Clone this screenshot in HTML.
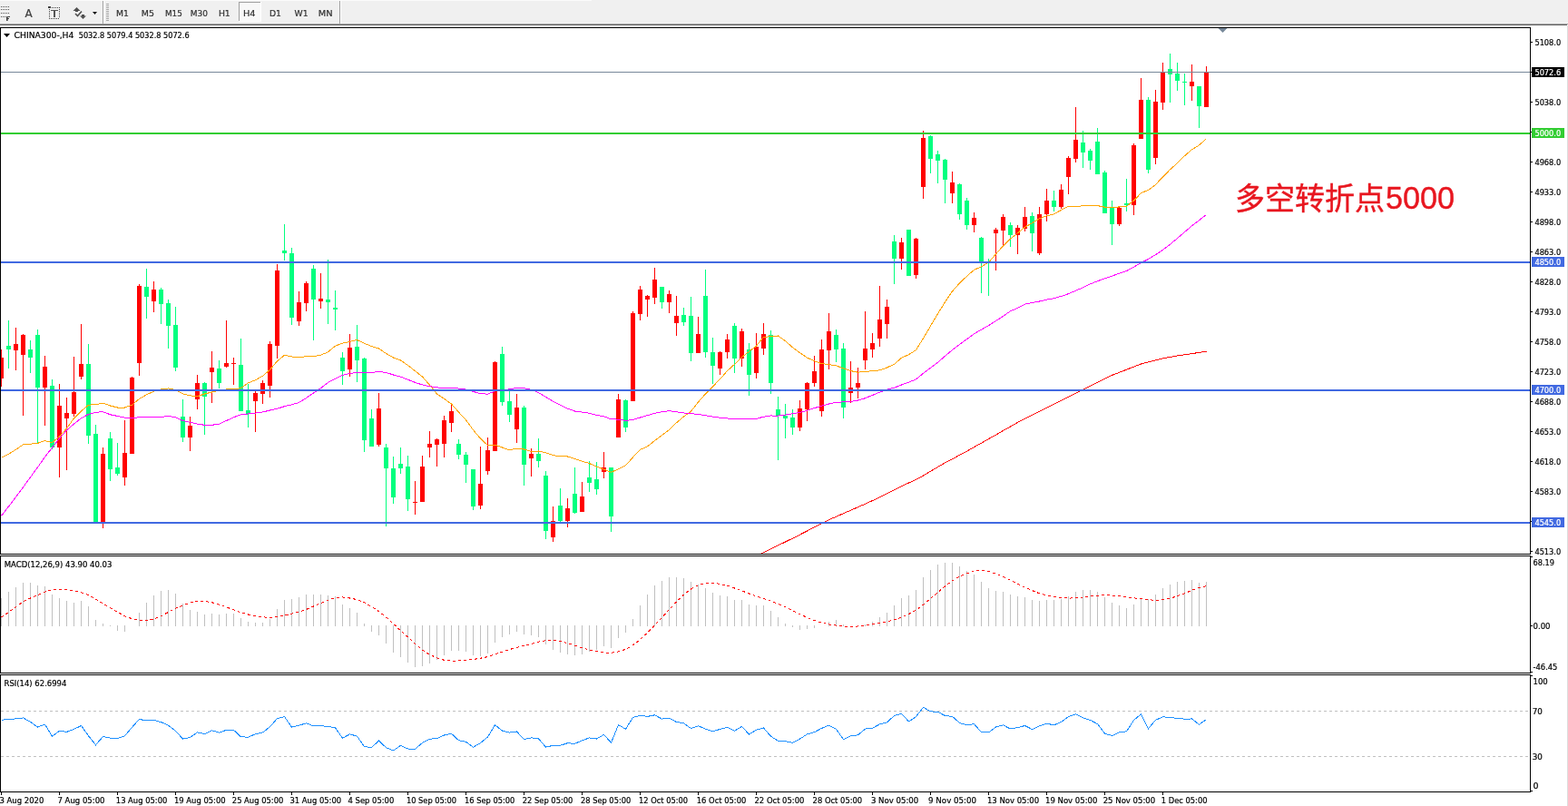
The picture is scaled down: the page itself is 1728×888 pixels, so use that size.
<!DOCTYPE html>
<html><head><meta charset="utf-8"><title>CHINA300-,H4</title>
<style>html,body{margin:0;padding:0;background:#fff;}body{width:1728px;height:888px;overflow:hidden;}svg{display:block;}</style>
</head><body>
<svg width="1728" height="888" viewBox="0 0 1728 888" font-family="'DejaVu Sans', 'Liberation Sans', sans-serif">
<rect width="1728" height="888" fill="#fff"/>
<g shape-rendering="crispEdges">
<rect x="0" y="0" width="1728" height="26" fill="#f0f0f0"/>
<rect x="0" y="0" width="652" height="1" fill="#fbfbfb"/>
<rect x="0" y="25" width="1728" height="1" fill="#f4f4f4"/>
<rect x="0" y="26" width="1728" height="1" fill="#a0a0a0"/>
<rect x="0" y="27" width="1727" height="1" fill="#656565"/>
<rect x="1" y="7" width="1" height="1" fill="#505050"/>
<rect x="3" y="7" width="1" height="1" fill="#505050"/>
<rect x="5" y="7" width="1" height="1" fill="#505050"/>
<rect x="7" y="7" width="1" height="1" fill="#505050"/>
<rect x="9" y="7" width="1" height="1" fill="#505050"/>
<rect x="1" y="10" width="1" height="1" fill="#505050"/>
<rect x="3" y="10" width="1" height="1" fill="#505050"/>
<rect x="5" y="10" width="1" height="1" fill="#505050"/>
<rect x="7" y="10" width="1" height="1" fill="#505050"/>
<rect x="9" y="10" width="1" height="1" fill="#505050"/>
<rect x="1" y="14" width="1" height="1" fill="#505050"/>
<rect x="3" y="14" width="1" height="1" fill="#505050"/>
<rect x="5" y="14" width="1" height="1" fill="#505050"/>
<rect x="7" y="14" width="1" height="1" fill="#505050"/>
<rect x="9" y="14" width="1" height="1" fill="#505050"/>
<rect x="1" y="18" width="1" height="1" fill="#505050"/>
<rect x="3" y="18" width="1" height="1" fill="#505050"/>
<rect x="5" y="18" width="1" height="1" fill="#505050"/>
<rect x="7" y="18" width="4" height="1" fill="#404040"/><rect x="7" y="18" width="1" height="5" fill="#404040"/><rect x="8" y="18" width="1" height="5" fill="#808080"/><rect x="7" y="20" width="3" height="1" fill="#404040"/>
<rect x="113" y="1" width="1" height="25" fill="#a0a0a0"/><rect x="114" y="1" width="1" height="25" fill="#ffffff"/>
<rect x="117" y="4" width="3" height="1" fill="#a8a8a8"/>
<rect x="117" y="6" width="3" height="1" fill="#a8a8a8"/>
<rect x="117" y="8" width="3" height="1" fill="#a8a8a8"/>
<rect x="117" y="10" width="3" height="1" fill="#a8a8a8"/>
<rect x="117" y="12" width="3" height="1" fill="#a8a8a8"/>
<rect x="117" y="14" width="3" height="1" fill="#a8a8a8"/>
<rect x="117" y="16" width="3" height="1" fill="#a8a8a8"/>
<rect x="117" y="18" width="3" height="1" fill="#a8a8a8"/>
<rect x="117" y="20" width="3" height="1" fill="#a8a8a8"/>
<rect x="117" y="22" width="3" height="1" fill="#a8a8a8"/>
<rect x="374" y="1" width="1" height="25" fill="#a0a0a0"/><rect x="375" y="1" width="1" height="25" fill="#ffffff"/>
<rect x="57" y="8" width="1" height="1" fill="#404040"/>
<rect x="59" y="8" width="1" height="1" fill="#404040"/>
<rect x="61" y="8" width="1" height="1" fill="#404040"/>
<rect x="63" y="8" width="1" height="1" fill="#404040"/>
<rect x="65" y="8" width="1" height="1" fill="#404040"/>
<rect x="53" y="7" width="3" height="2" fill="#404040"/>
<rect x="54" y="10" width="1" height="1" fill="#404040"/><rect x="65" y="10" width="1" height="1" fill="#404040"/>
<rect x="54" y="12" width="1" height="1" fill="#404040"/><rect x="65" y="12" width="1" height="1" fill="#404040"/>
<rect x="54" y="14" width="1" height="1" fill="#404040"/><rect x="65" y="14" width="1" height="1" fill="#404040"/>
<rect x="54" y="16" width="1" height="1" fill="#404040"/><rect x="65" y="16" width="1" height="1" fill="#404040"/>
<rect x="54" y="18" width="1" height="1" fill="#404040"/><rect x="65" y="18" width="1" height="1" fill="#404040"/>
<rect x="54" y="20" width="1" height="1" fill="#404040"/>
<rect x="56" y="20" width="1" height="1" fill="#404040"/>
<rect x="58" y="20" width="1" height="1" fill="#404040"/>
<rect x="60" y="20" width="1" height="1" fill="#404040"/>
<rect x="62" y="20" width="1" height="1" fill="#404040"/>
<rect x="64" y="20" width="1" height="1" fill="#404040"/>
<rect x="56" y="11" width="8" height="1" fill="#555"/><rect x="59" y="11" width="2" height="8" fill="#555"/>
<rect x="263" y="2" width="25" height="22" fill="#f8f8f8"/>
<rect x="263" y="2" width="25" height="1" fill="#a0a0a0"/><rect x="263" y="2" width="1" height="22" fill="#a0a0a0"/>
<rect x="263" y="23" width="25" height="1" fill="#ffffff"/><rect x="287" y="2" width="1" height="22" fill="#ffffff"/>
</g>
<text x="27.6" y="19" fill="#404040" stroke="#404040" stroke-width="0.22" font-size="12.4" textLength="8.2" lengthAdjust="spacingAndGlyphs">A</text>
<path d="M84.5 8 L88.5 12 L80.5 12 Z" fill="#505050"/><rect x="83" y="12" width="3" height="1" fill="#505050"/>
<path d="M83 15 L85.5 17.5 L90 12.5" stroke="#505050" stroke-width="1.6" fill="none"/>
<path d="M88 17.5 L95 17.5 L91.5 21 Z" fill="#505050"/><rect x="90" y="16" width="3" height="2" fill="#505050"/>
<path d="M102 13 L107 13 L104.5 16 Z" fill="#111"/>
<text x="127.9" y="18" fill="#333" stroke="#333" stroke-width="0.22" font-size="9.2" textLength="13.9" lengthAdjust="spacingAndGlyphs">M1</text>
<text x="155.8" y="18" fill="#333" stroke="#333" stroke-width="0.22" font-size="9.2" textLength="14.1" lengthAdjust="spacingAndGlyphs">M5</text>
<text x="181.9" y="18" fill="#333" stroke="#333" stroke-width="0.22" font-size="9.2" textLength="18.9" lengthAdjust="spacingAndGlyphs">M15</text>
<text x="209.7" y="18" fill="#333" stroke="#333" stroke-width="0.22" font-size="9.2" textLength="19.2" lengthAdjust="spacingAndGlyphs">M30</text>
<text x="240.9" y="18" fill="#333" stroke="#333" stroke-width="0.22" font-size="9.2" textLength="12.9" lengthAdjust="spacingAndGlyphs">H1</text>
<text x="268.0" y="18" fill="#333" stroke="#333" stroke-width="0.22" font-size="9.2" textLength="13.6" lengthAdjust="spacingAndGlyphs">H4</text>
<text x="296.9" y="18" fill="#333" stroke="#333" stroke-width="0.22" font-size="9.2" textLength="13.0" lengthAdjust="spacingAndGlyphs">D1</text>
<text x="324.6" y="18" fill="#333" stroke="#333" stroke-width="0.22" font-size="9.2" textLength="15.0" lengthAdjust="spacingAndGlyphs">W1</text>
<text x="350.8" y="18" fill="#333" stroke="#333" stroke-width="0.22" font-size="9.2" textLength="15.9" lengthAdjust="spacingAndGlyphs">MN</text>
<g shape-rendering="crispEdges">
<rect x="1727" y="28" width="1" height="860" fill="#dcdcdc"/>
</g>
<defs><clipPath id="cm"><rect x="1" y="31" width="1685" height="579"/></clipPath><clipPath id="cd"><rect x="1" y="613" width="1685" height="128"/></clipPath><clipPath id="cr"><rect x="1" y="744" width="1685" height="128"/></clipPath></defs>
<g clip-path="url(#cm)" shape-rendering="crispEdges">
<rect x="1" y="385" width="1" height="41" fill="#ff0000"/>
<rect x="-1" y="394" width="5" height="23" fill="#ff0000"/>
<rect x="9" y="353" width="1" height="53" fill="#00ff7f"/>
<rect x="7" y="381" width="5" height="4" fill="#00ff7f"/>
<rect x="17" y="361" width="1" height="47" fill="#ff0000"/>
<rect x="15" y="379" width="5" height="7" fill="#ff0000"/>
<rect x="25" y="368" width="1" height="90" fill="#ff0000"/>
<rect x="23" y="369" width="5" height="22" fill="#ff0000"/>
<rect x="33" y="375" width="1" height="36" fill="#00ff7f"/>
<rect x="31" y="385" width="5" height="9" fill="#00ff7f"/>
<rect x="41" y="363" width="1" height="126" fill="#00ff7f"/>
<rect x="39" y="369" width="5" height="58" fill="#00ff7f"/>
<rect x="49" y="392" width="1" height="77" fill="#ff0000"/>
<rect x="47" y="404" width="5" height="23" fill="#ff0000"/>
<rect x="57" y="418" width="1" height="77" fill="#00ff7f"/>
<rect x="55" y="425" width="5" height="68" fill="#00ff7f"/>
<rect x="65" y="423" width="1" height="103" fill="#ff0000"/>
<rect x="63" y="447" width="5" height="46" fill="#ff0000"/>
<rect x="73" y="438" width="1" height="80" fill="#ff0000"/>
<rect x="71" y="455" width="5" height="6" fill="#ff0000"/>
<rect x="81" y="393" width="1" height="66" fill="#ff0000"/>
<rect x="79" y="432" width="5" height="24" fill="#ff0000"/>
<rect x="89" y="357" width="1" height="61" fill="#ff0000"/>
<rect x="87" y="401" width="5" height="14" fill="#ff0000"/>
<rect x="97" y="379" width="1" height="110" fill="#00ff7f"/>
<rect x="95" y="401" width="5" height="79" fill="#00ff7f"/>
<rect x="105" y="468" width="1" height="107" fill="#00ff7f"/>
<rect x="103" y="478" width="5" height="97" fill="#00ff7f"/>
<rect x="113" y="493" width="1" height="89" fill="#ff0000"/>
<rect x="111" y="500" width="5" height="75" fill="#ff0000"/>
<rect x="121" y="476" width="1" height="54" fill="#00ff7f"/>
<rect x="119" y="483" width="5" height="34" fill="#00ff7f"/>
<rect x="129" y="488" width="1" height="36" fill="#00ff7f"/>
<rect x="127" y="515" width="5" height="7" fill="#00ff7f"/>
<rect x="137" y="463" width="1" height="72" fill="#ff0000"/>
<rect x="135" y="499" width="5" height="27" fill="#ff0000"/>
<rect x="145" y="415" width="1" height="85" fill="#ff0000"/>
<rect x="143" y="416" width="5" height="84" fill="#ff0000"/>
<rect x="153" y="313" width="1" height="101" fill="#ff0000"/>
<rect x="151" y="315" width="5" height="85" fill="#ff0000"/>
<rect x="161" y="296" width="1" height="55" fill="#00ff7f"/>
<rect x="159" y="316" width="5" height="11" fill="#00ff7f"/>
<rect x="169" y="310" width="1" height="34" fill="#ff0000"/>
<rect x="167" y="319" width="5" height="13" fill="#ff0000"/>
<rect x="177" y="317" width="1" height="40" fill="#00ff7f"/>
<rect x="175" y="319" width="5" height="16" fill="#00ff7f"/>
<rect x="185" y="330" width="1" height="54" fill="#00ff7f"/>
<rect x="183" y="334" width="5" height="25" fill="#00ff7f"/>
<rect x="193" y="338" width="1" height="71" fill="#00ff7f"/>
<rect x="191" y="358" width="5" height="47" fill="#00ff7f"/>
<rect x="201" y="440" width="1" height="47" fill="#00ff7f"/>
<rect x="199" y="459" width="5" height="23" fill="#00ff7f"/>
<rect x="209" y="459" width="1" height="38" fill="#ff0000"/>
<rect x="207" y="469" width="5" height="13" fill="#ff0000"/>
<rect x="217" y="413" width="1" height="38" fill="#ff0000"/>
<rect x="215" y="422" width="5" height="18" fill="#ff0000"/>
<rect x="225" y="421" width="1" height="58" fill="#00ff7f"/>
<rect x="223" y="422" width="5" height="15" fill="#00ff7f"/>
<rect x="233" y="387" width="1" height="57" fill="#ff0000"/>
<rect x="231" y="405" width="5" height="5" fill="#ff0000"/>
<rect x="241" y="397" width="1" height="31" fill="#00ff7f"/>
<rect x="239" y="406" width="5" height="16" fill="#00ff7f"/>
<rect x="249" y="353" width="1" height="52" fill="#ff0000"/>
<rect x="247" y="400" width="5" height="4" fill="#ff0000"/>
<rect x="257" y="394" width="1" height="30" fill="#ff0000"/>
<rect x="255" y="400" width="5" height="1" fill="#ff0000"/>
<rect x="265" y="373" width="1" height="80" fill="#00ff7f"/>
<rect x="263" y="402" width="5" height="51" fill="#00ff7f"/>
<rect x="273" y="423" width="1" height="48" fill="#00ff7f"/>
<rect x="271" y="452" width="5" height="4" fill="#00ff7f"/>
<rect x="281" y="431" width="1" height="45" fill="#ff0000"/>
<rect x="279" y="433" width="5" height="9" fill="#ff0000"/>
<rect x="289" y="419" width="1" height="26" fill="#ff0000"/>
<rect x="287" y="422" width="5" height="12" fill="#ff0000"/>
<rect x="297" y="376" width="1" height="62" fill="#ff0000"/>
<rect x="295" y="379" width="5" height="46" fill="#ff0000"/>
<rect x="305" y="291" width="1" height="104" fill="#ff0000"/>
<rect x="303" y="298" width="5" height="83" fill="#ff0000"/>
<rect x="313" y="247" width="1" height="40" fill="#00ff7f"/>
<rect x="311" y="276" width="5" height="3" fill="#00ff7f"/>
<rect x="321" y="273" width="1" height="85" fill="#00ff7f"/>
<rect x="319" y="279" width="5" height="71" fill="#00ff7f"/>
<rect x="329" y="321" width="1" height="38" fill="#ff0000"/>
<rect x="327" y="333" width="5" height="21" fill="#ff0000"/>
<rect x="337" y="310" width="1" height="33" fill="#ff0000"/>
<rect x="335" y="312" width="5" height="22" fill="#ff0000"/>
<rect x="345" y="292" width="1" height="83" fill="#00ff7f"/>
<rect x="343" y="296" width="5" height="34" fill="#00ff7f"/>
<rect x="353" y="301" width="1" height="39" fill="#ff0000"/>
<rect x="351" y="329" width="5" height="3" fill="#ff0000"/>
<rect x="361" y="286" width="1" height="71" fill="#00ff7f"/>
<rect x="359" y="330" width="5" height="3" fill="#00ff7f"/>
<rect x="369" y="320" width="1" height="44" fill="#00ff7f"/>
<rect x="367" y="339" width="5" height="2" fill="#00ff7f"/>
<rect x="377" y="388" width="1" height="36" fill="#00ff7f"/>
<rect x="375" y="394" width="5" height="15" fill="#00ff7f"/>
<rect x="385" y="368" width="1" height="47" fill="#ff0000"/>
<rect x="383" y="383" width="5" height="24" fill="#ff0000"/>
<rect x="393" y="358" width="1" height="63" fill="#00ff7f"/>
<rect x="391" y="382" width="5" height="15" fill="#00ff7f"/>
<rect x="401" y="394" width="1" height="104" fill="#00ff7f"/>
<rect x="399" y="395" width="5" height="90" fill="#00ff7f"/>
<rect x="409" y="451" width="1" height="41" fill="#00ff7f"/>
<rect x="407" y="461" width="5" height="31" fill="#00ff7f"/>
<rect x="417" y="433" width="1" height="59" fill="#ff0000"/>
<rect x="415" y="450" width="5" height="40" fill="#ff0000"/>
<rect x="425" y="489" width="1" height="91" fill="#00ff7f"/>
<rect x="423" y="493" width="5" height="23" fill="#00ff7f"/>
<rect x="433" y="503" width="1" height="52" fill="#00ff7f"/>
<rect x="431" y="516" width="5" height="32" fill="#00ff7f"/>
<rect x="441" y="493" width="1" height="29" fill="#00ff7f"/>
<rect x="439" y="511" width="5" height="5" fill="#00ff7f"/>
<rect x="449" y="502" width="1" height="61" fill="#00ff7f"/>
<rect x="447" y="514" width="5" height="36" fill="#00ff7f"/>
<rect x="457" y="530" width="1" height="37" fill="#ff0000"/>
<rect x="455" y="553" width="5" height="1" fill="#ff0000"/>
<rect x="465" y="502" width="1" height="51" fill="#ff0000"/>
<rect x="463" y="514" width="5" height="39" fill="#ff0000"/>
<rect x="473" y="475" width="1" height="29" fill="#ff0000"/>
<rect x="471" y="489" width="5" height="4" fill="#ff0000"/>
<rect x="481" y="483" width="1" height="31" fill="#ff0000"/>
<rect x="479" y="484" width="5" height="6" fill="#ff0000"/>
<rect x="489" y="458" width="1" height="46" fill="#ff0000"/>
<rect x="487" y="463" width="5" height="26" fill="#ff0000"/>
<rect x="497" y="444" width="1" height="32" fill="#ff0000"/>
<rect x="495" y="453" width="5" height="13" fill="#ff0000"/>
<rect x="505" y="484" width="1" height="22" fill="#00ff7f"/>
<rect x="503" y="489" width="5" height="12" fill="#00ff7f"/>
<rect x="513" y="498" width="1" height="34" fill="#00ff7f"/>
<rect x="511" y="501" width="5" height="11" fill="#00ff7f"/>
<rect x="521" y="517" width="1" height="45" fill="#00ff7f"/>
<rect x="519" y="517" width="5" height="41" fill="#00ff7f"/>
<rect x="529" y="492" width="1" height="69" fill="#ff0000"/>
<rect x="527" y="533" width="5" height="24" fill="#ff0000"/>
<rect x="537" y="482" width="1" height="41" fill="#ff0000"/>
<rect x="535" y="496" width="5" height="23" fill="#ff0000"/>
<rect x="545" y="398" width="1" height="99" fill="#ff0000"/>
<rect x="543" y="399" width="5" height="98" fill="#ff0000"/>
<rect x="553" y="382" width="1" height="65" fill="#00ff7f"/>
<rect x="551" y="390" width="5" height="53" fill="#00ff7f"/>
<rect x="561" y="430" width="1" height="35" fill="#00ff7f"/>
<rect x="559" y="442" width="5" height="15" fill="#00ff7f"/>
<rect x="569" y="434" width="1" height="54" fill="#ff0000"/>
<rect x="567" y="449" width="5" height="24" fill="#ff0000"/>
<rect x="577" y="447" width="1" height="88" fill="#00ff7f"/>
<rect x="575" y="449" width="5" height="63" fill="#00ff7f"/>
<rect x="585" y="494" width="1" height="31" fill="#ff0000"/>
<rect x="583" y="500" width="5" height="5" fill="#ff0000"/>
<rect x="593" y="483" width="1" height="32" fill="#00ff7f"/>
<rect x="591" y="500" width="5" height="8" fill="#00ff7f"/>
<rect x="601" y="519" width="1" height="75" fill="#00ff7f"/>
<rect x="599" y="524" width="5" height="61" fill="#00ff7f"/>
<rect x="609" y="558" width="1" height="39" fill="#ff0000"/>
<rect x="607" y="574" width="5" height="18" fill="#ff0000"/>
<rect x="617" y="538" width="1" height="37" fill="#00ff7f"/>
<rect x="615" y="557" width="5" height="17" fill="#00ff7f"/>
<rect x="625" y="549" width="1" height="32" fill="#ff0000"/>
<rect x="623" y="560" width="5" height="14" fill="#ff0000"/>
<rect x="633" y="515" width="1" height="51" fill="#00ff7f"/>
<rect x="631" y="544" width="5" height="21" fill="#00ff7f"/>
<rect x="641" y="531" width="1" height="33" fill="#ff0000"/>
<rect x="639" y="547" width="5" height="17" fill="#ff0000"/>
<rect x="649" y="508" width="1" height="34" fill="#00ff7f"/>
<rect x="647" y="526" width="5" height="6" fill="#00ff7f"/>
<rect x="657" y="509" width="1" height="36" fill="#00ff7f"/>
<rect x="655" y="528" width="5" height="11" fill="#00ff7f"/>
<rect x="665" y="498" width="1" height="29" fill="#ff0000"/>
<rect x="663" y="515" width="5" height="5" fill="#ff0000"/>
<rect x="673" y="515" width="1" height="71" fill="#00ff7f"/>
<rect x="671" y="515" width="5" height="54" fill="#00ff7f"/>
<rect x="681" y="434" width="1" height="48" fill="#ff0000"/>
<rect x="679" y="440" width="5" height="42" fill="#ff0000"/>
<rect x="689" y="440" width="1" height="36" fill="#00ff7f"/>
<rect x="687" y="441" width="5" height="30" fill="#00ff7f"/>
<rect x="697" y="343" width="1" height="99" fill="#ff0000"/>
<rect x="695" y="345" width="5" height="97" fill="#ff0000"/>
<rect x="705" y="315" width="1" height="38" fill="#ff0000"/>
<rect x="703" y="319" width="5" height="27" fill="#ff0000"/>
<rect x="713" y="325" width="1" height="24" fill="#ff0000"/>
<rect x="711" y="326" width="5" height="4" fill="#ff0000"/>
<rect x="721" y="295" width="1" height="40" fill="#ff0000"/>
<rect x="719" y="308" width="5" height="20" fill="#ff0000"/>
<rect x="729" y="316" width="1" height="24" fill="#00ff7f"/>
<rect x="727" y="316" width="5" height="17" fill="#00ff7f"/>
<rect x="737" y="320" width="1" height="25" fill="#ff0000"/>
<rect x="735" y="324" width="5" height="9" fill="#ff0000"/>
<rect x="745" y="326" width="1" height="44" fill="#ff0000"/>
<rect x="743" y="348" width="5" height="8" fill="#ff0000"/>
<rect x="753" y="339" width="1" height="20" fill="#00ff7f"/>
<rect x="751" y="347" width="5" height="8" fill="#00ff7f"/>
<rect x="761" y="327" width="1" height="71" fill="#00ff7f"/>
<rect x="759" y="348" width="5" height="41" fill="#00ff7f"/>
<rect x="769" y="349" width="1" height="40" fill="#ff0000"/>
<rect x="767" y="368" width="5" height="21" fill="#ff0000"/>
<rect x="777" y="297" width="1" height="97" fill="#00ff7f"/>
<rect x="775" y="326" width="5" height="62" fill="#00ff7f"/>
<rect x="785" y="372" width="1" height="51" fill="#00ff7f"/>
<rect x="783" y="388" width="5" height="15" fill="#00ff7f"/>
<rect x="793" y="387" width="1" height="26" fill="#ff0000"/>
<rect x="791" y="388" width="5" height="18" fill="#ff0000"/>
<rect x="801" y="368" width="1" height="27" fill="#ff0000"/>
<rect x="799" y="374" width="5" height="14" fill="#ff0000"/>
<rect x="809" y="356" width="1" height="55" fill="#00ff7f"/>
<rect x="807" y="359" width="5" height="36" fill="#00ff7f"/>
<rect x="817" y="362" width="1" height="42" fill="#ff0000"/>
<rect x="815" y="365" width="5" height="30" fill="#ff0000"/>
<rect x="825" y="378" width="1" height="58" fill="#00ff7f"/>
<rect x="823" y="385" width="5" height="28" fill="#00ff7f"/>
<rect x="833" y="367" width="1" height="50" fill="#ff0000"/>
<rect x="831" y="382" width="5" height="29" fill="#ff0000"/>
<rect x="841" y="356" width="1" height="35" fill="#ff0000"/>
<rect x="839" y="368" width="5" height="16" fill="#ff0000"/>
<rect x="849" y="364" width="1" height="70" fill="#00ff7f"/>
<rect x="847" y="369" width="5" height="53" fill="#00ff7f"/>
<rect x="857" y="437" width="1" height="70" fill="#00ff7f"/>
<rect x="855" y="451" width="5" height="7" fill="#00ff7f"/>
<rect x="865" y="445" width="1" height="38" fill="#00ff7f"/>
<rect x="863" y="458" width="5" height="3" fill="#00ff7f"/>
<rect x="873" y="451" width="1" height="28" fill="#00ff7f"/>
<rect x="871" y="460" width="5" height="11" fill="#00ff7f"/>
<rect x="881" y="441" width="1" height="34" fill="#ff0000"/>
<rect x="879" y="450" width="5" height="21" fill="#ff0000"/>
<rect x="889" y="421" width="1" height="43" fill="#ff0000"/>
<rect x="887" y="422" width="5" height="29" fill="#ff0000"/>
<rect x="897" y="392" width="1" height="34" fill="#ff0000"/>
<rect x="895" y="409" width="5" height="13" fill="#ff0000"/>
<rect x="905" y="374" width="1" height="85" fill="#ff0000"/>
<rect x="903" y="385" width="5" height="68" fill="#ff0000"/>
<rect x="913" y="345" width="1" height="62" fill="#ff0000"/>
<rect x="911" y="365" width="5" height="21" fill="#ff0000"/>
<rect x="921" y="363" width="1" height="36" fill="#00ff7f"/>
<rect x="919" y="369" width="5" height="16" fill="#00ff7f"/>
<rect x="929" y="378" width="1" height="83" fill="#00ff7f"/>
<rect x="927" y="384" width="5" height="65" fill="#00ff7f"/>
<rect x="937" y="398" width="1" height="46" fill="#ff0000"/>
<rect x="935" y="427" width="5" height="6" fill="#ff0000"/>
<rect x="945" y="405" width="1" height="34" fill="#ff0000"/>
<rect x="943" y="422" width="5" height="5" fill="#ff0000"/>
<rect x="953" y="343" width="1" height="64" fill="#ff0000"/>
<rect x="951" y="384" width="5" height="13" fill="#ff0000"/>
<rect x="961" y="367" width="1" height="27" fill="#ff0000"/>
<rect x="959" y="378" width="5" height="7" fill="#ff0000"/>
<rect x="969" y="315" width="1" height="67" fill="#ff0000"/>
<rect x="967" y="352" width="5" height="21" fill="#ff0000"/>
<rect x="977" y="330" width="1" height="43" fill="#ff0000"/>
<rect x="975" y="338" width="5" height="19" fill="#ff0000"/>
<rect x="985" y="259" width="1" height="54" fill="#00ff7f"/>
<rect x="983" y="266" width="5" height="19" fill="#00ff7f"/>
<rect x="993" y="262" width="1" height="35" fill="#ff0000"/>
<rect x="991" y="267" width="5" height="18" fill="#ff0000"/>
<rect x="1001" y="253" width="1" height="51" fill="#00ff7f"/>
<rect x="999" y="253" width="5" height="51" fill="#00ff7f"/>
<rect x="1009" y="262" width="1" height="45" fill="#ff0000"/>
<rect x="1007" y="263" width="5" height="40" fill="#ff0000"/>
<rect x="1017" y="144" width="1" height="75" fill="#ff0000"/>
<rect x="1015" y="152" width="5" height="54" fill="#ff0000"/>
<rect x="1025" y="149" width="1" height="42" fill="#00ff7f"/>
<rect x="1023" y="150" width="5" height="25" fill="#00ff7f"/>
<rect x="1033" y="166" width="1" height="36" fill="#00ff7f"/>
<rect x="1031" y="170" width="5" height="7" fill="#00ff7f"/>
<rect x="1041" y="175" width="1" height="49" fill="#00ff7f"/>
<rect x="1039" y="176" width="5" height="22" fill="#00ff7f"/>
<rect x="1049" y="189" width="1" height="35" fill="#ff0000"/>
<rect x="1047" y="201" width="5" height="12" fill="#ff0000"/>
<rect x="1057" y="202" width="1" height="40" fill="#00ff7f"/>
<rect x="1055" y="203" width="5" height="33" fill="#00ff7f"/>
<rect x="1065" y="218" width="1" height="35" fill="#00ff7f"/>
<rect x="1063" y="221" width="5" height="27" fill="#00ff7f"/>
<rect x="1073" y="234" width="1" height="22" fill="#ff0000"/>
<rect x="1071" y="240" width="5" height="8" fill="#ff0000"/>
<rect x="1081" y="261" width="1" height="62" fill="#00ff7f"/>
<rect x="1079" y="262" width="5" height="26" fill="#00ff7f"/>
<rect x="1089" y="285" width="1" height="41" fill="#00ff7f"/>
<rect x="1087" y="288" width="5" height="1" fill="#00ff7f"/>
<rect x="1097" y="251" width="1" height="47" fill="#ff0000"/>
<rect x="1095" y="253" width="5" height="4" fill="#ff0000"/>
<rect x="1105" y="236" width="1" height="34" fill="#ff0000"/>
<rect x="1103" y="239" width="5" height="15" fill="#ff0000"/>
<rect x="1113" y="245" width="1" height="27" fill="#00ff7f"/>
<rect x="1111" y="248" width="5" height="11" fill="#00ff7f"/>
<rect x="1121" y="248" width="1" height="32" fill="#ff0000"/>
<rect x="1119" y="251" width="5" height="8" fill="#ff0000"/>
<rect x="1129" y="228" width="1" height="27" fill="#ff0000"/>
<rect x="1127" y="239" width="5" height="13" fill="#ff0000"/>
<rect x="1137" y="234" width="1" height="43" fill="#00ff7f"/>
<rect x="1135" y="238" width="5" height="19" fill="#00ff7f"/>
<rect x="1145" y="228" width="1" height="53" fill="#ff0000"/>
<rect x="1143" y="236" width="5" height="43" fill="#ff0000"/>
<rect x="1153" y="208" width="1" height="36" fill="#ff0000"/>
<rect x="1151" y="221" width="5" height="15" fill="#ff0000"/>
<rect x="1161" y="210" width="1" height="23" fill="#00ff7f"/>
<rect x="1159" y="221" width="5" height="7" fill="#00ff7f"/>
<rect x="1169" y="203" width="1" height="27" fill="#ff0000"/>
<rect x="1167" y="209" width="5" height="19" fill="#ff0000"/>
<rect x="1177" y="172" width="1" height="42" fill="#ff0000"/>
<rect x="1175" y="174" width="5" height="21" fill="#ff0000"/>
<rect x="1185" y="118" width="1" height="61" fill="#ff0000"/>
<rect x="1183" y="154" width="5" height="21" fill="#ff0000"/>
<rect x="1193" y="144" width="1" height="41" fill="#00ff7f"/>
<rect x="1191" y="157" width="5" height="11" fill="#00ff7f"/>
<rect x="1201" y="164" width="1" height="23" fill="#00ff7f"/>
<rect x="1199" y="166" width="5" height="11" fill="#00ff7f"/>
<rect x="1209" y="141" width="1" height="51" fill="#00ff7f"/>
<rect x="1207" y="156" width="5" height="36" fill="#00ff7f"/>
<rect x="1217" y="188" width="1" height="47" fill="#00ff7f"/>
<rect x="1215" y="190" width="5" height="45" fill="#00ff7f"/>
<rect x="1225" y="221" width="1" height="49" fill="#00ff7f"/>
<rect x="1223" y="229" width="5" height="18" fill="#00ff7f"/>
<rect x="1233" y="228" width="1" height="21" fill="#ff0000"/>
<rect x="1231" y="229" width="5" height="18" fill="#ff0000"/>
<rect x="1241" y="197" width="1" height="36" fill="#00ff7f"/>
<rect x="1239" y="224" width="5" height="2" fill="#00ff7f"/>
<rect x="1249" y="158" width="1" height="79" fill="#ff0000"/>
<rect x="1247" y="160" width="5" height="66" fill="#ff0000"/>
<rect x="1257" y="86" width="1" height="67" fill="#ff0000"/>
<rect x="1255" y="110" width="5" height="43" fill="#ff0000"/>
<rect x="1265" y="107" width="1" height="84" fill="#00ff7f"/>
<rect x="1263" y="110" width="5" height="77" fill="#00ff7f"/>
<rect x="1273" y="99" width="1" height="82" fill="#ff0000"/>
<rect x="1271" y="112" width="5" height="62" fill="#ff0000"/>
<rect x="1281" y="69" width="1" height="52" fill="#ff0000"/>
<rect x="1279" y="80" width="5" height="33" fill="#ff0000"/>
<rect x="1289" y="59" width="1" height="54" fill="#00ff7f"/>
<rect x="1287" y="76" width="5" height="6" fill="#00ff7f"/>
<rect x="1297" y="69" width="1" height="31" fill="#00ff7f"/>
<rect x="1295" y="81" width="5" height="8" fill="#00ff7f"/>
<rect x="1305" y="81" width="1" height="35" fill="#00ff7f"/>
<rect x="1303" y="90" width="5" height="1" fill="#00ff7f"/>
<rect x="1313" y="71" width="1" height="40" fill="#ff0000"/>
<rect x="1311" y="90" width="5" height="5" fill="#ff0000"/>
<rect x="1321" y="95" width="1" height="46" fill="#00ff7f"/>
<rect x="1319" y="95" width="5" height="22" fill="#00ff7f"/>
<rect x="1329" y="73" width="1" height="45" fill="#ff0000"/>
<rect x="1327" y="79" width="5" height="39" fill="#ff0000"/>
</g>
<g clip-path="url(#cm)" fill="none" stroke-width="1" shape-rendering="crispEdges">
<polyline points="1.5,504.4 9.5,500.3 17.5,495.3 25.5,489.8 33.5,489.2 41.5,488.4 49.5,485.5 57.5,487.6 65.5,481.0 73.5,472.0 81.5,460.8 89.5,453.0 97.5,446.2 105.5,445.6 113.5,444.2 121.5,447.0 129.5,449.0 137.5,449.0 145.5,446.2 153.5,439.5 161.5,434.8 169.5,431.2 177.5,428.9 185.5,427.9 193.5,429.6 201.5,433.8 209.5,435.8 217.5,436.7 225.5,434.0 233.5,432.0 241.5,430.4 249.5,428.9 257.5,428.9 265.5,427.6 273.5,421.9 281.5,418.7 289.5,414.2 297.5,407.4 305.5,397.8 313.5,391.3 321.5,393.0 329.5,393.2 337.5,392.9 345.5,392.7 353.5,391.2 361.5,387.8 369.5,381.1 377.5,378.2 385.5,376.4 393.5,374.5 401.5,378.3 409.5,381.6 417.5,384.0 425.5,389.5 433.5,394.0 441.5,396.9 449.5,402.5 457.5,408.7 465.5,415.1 473.5,424.2 481.5,434.0 489.5,439.4 497.5,445.1 505.5,454.1 513.5,462.8 521.5,473.7 529.5,483.2 537.5,490.6 545.5,490.1 553.5,493.0 561.5,495.8 569.5,494.1 577.5,495.0 585.5,497.4 593.5,497.0 601.5,498.8 609.5,501.6 617.5,502.7 625.5,503.0 633.5,505.5 641.5,508.2 649.5,510.5 657.5,514.1 665.5,517.1 673.5,520.3 681.5,516.9 689.5,512.8 697.5,503.8 705.5,495.4 713.5,491.9 721.5,485.5 729.5,479.6 737.5,473.6 745.5,465.8 753.5,458.9 761.5,453.2 769.5,442.9 777.5,434.0 785.5,425.9 793.5,417.7 801.5,408.6 809.5,401.4 817.5,393.4 825.5,387.4 833.5,381.1 841.5,371.5 849.5,370.7 857.5,370.0 865.5,375.6 873.5,382.8 881.5,388.7 889.5,394.1 897.5,397.8 905.5,400.7 913.5,401.5 921.5,402.9 929.5,405.8 937.5,408.6 945.5,410.2 953.5,409.3 961.5,408.8 969.5,407.8 977.5,405.0 985.5,401.2 993.5,394.3 1001.5,390.6 1009.5,385.6 1017.5,372.7 1025.5,359.2 1033.5,345.7 1041.5,332.7 1049.5,320.9 1057.5,312.0 1065.5,304.3 1073.5,297.4 1081.5,293.8 1089.5,289.2 1097.5,279.9 1105.5,270.9 1113.5,263.1 1121.5,256.8 1129.5,250.2 1137.5,245.7 1145.5,240.8 1153.5,237.8 1161.5,235.9 1169.5,231.4 1177.5,227.1 1185.5,227.2 1193.5,226.9 1201.5,226.9 1209.5,226.6 1217.5,228.2 1225.5,228.8 1233.5,227.9 1241.5,227.2 1249.5,221.1 1257.5,212.6 1265.5,209.4 1273.5,203.4 1281.5,194.9 1289.5,186.8 1297.5,179.7 1305.5,171.8 1313.5,164.8 1321.5,159.9 1329.5,152.8" stroke="#ffa500"/>
<polyline points="1.5,568.3 9.5,558.0 17.5,547.6 25.5,536.8 33.5,525.7 41.5,515.0 49.5,503.4 57.5,493.2 65.5,483.0 73.5,474.0 81.5,467.0 89.5,460.8 97.5,456.4 105.5,454.3 113.5,453.7 121.5,456.8 129.5,458.4 137.5,460.2 145.5,460.4 153.5,459.8 161.5,459.4 169.5,459.4 177.5,459.4 185.5,458.4 193.5,459.8 201.5,463.5 209.5,465.3 217.5,467.1 225.5,468.3 233.5,468.3 241.5,467.1 249.5,463.5 257.5,459.8 265.5,456.7 273.5,456.0 281.5,455.1 289.5,454.0 297.5,452.0 305.5,450.3 313.5,447.7 321.5,445.8 329.5,443.5 337.5,438.5 345.5,433.0 353.5,427.7 361.5,421.4 369.5,417.2 377.5,413.4 385.5,411.5 393.5,410.4 401.5,410.4 409.5,410.4 417.5,409.4 425.5,410.4 433.5,413.0 441.5,415.2 449.5,418.2 457.5,421.4 465.5,424.0 473.5,425.7 481.5,426.8 489.5,427.8 497.5,427.1 505.5,428.1 513.5,429.1 521.5,431.4 529.5,433.8 537.5,434.1 545.5,430.9 553.5,429.9 561.5,428.8 569.5,427.5 577.5,427.7 585.5,429.2 593.5,432.7 601.5,437.4 609.5,442.1 617.5,446.4 625.5,450.1 633.5,453.0 641.5,454.1 649.5,455.3 657.5,457.4 665.5,458.8 673.5,461.8 681.5,462.1 689.5,463.4 697.5,462.4 705.5,460.0 713.5,457.6 721.5,455.4 729.5,453.7 737.5,452.7 745.5,453.7 753.5,455.0 761.5,455.7 769.5,456.4 777.5,457.8 785.5,459.1 793.5,460.2 801.5,460.9 809.5,461.9 817.5,461.1 825.5,461.6 833.5,461.4 841.5,459.2 849.5,458.0 857.5,458.1 865.5,457.1 873.5,455.7 881.5,454.5 889.5,452.2 897.5,449.6 905.5,447.2 913.5,445.0 921.5,443.2 929.5,442.9 937.5,442.4 945.5,441.0 953.5,438.7 961.5,435.4 969.5,432.1 977.5,429.2 985.5,427.2 993.5,424.0 1001.5,421.2 1009.5,417.8 1017.5,411.3 1025.5,405.3 1033.5,399.3 1041.5,392.3 1049.5,385.5 1057.5,379.4 1065.5,373.7 1073.5,367.8 1081.5,363.1 1089.5,358.7 1097.5,353.5 1105.5,348.4 1113.5,342.8 1121.5,339.4 1129.5,335.1 1137.5,333.5 1145.5,332.0 1153.5,330.1 1161.5,328.7 1169.5,326.4 1177.5,323.7 1185.5,320.2 1193.5,316.8 1201.5,312.9 1209.5,309.7 1217.5,306.9 1225.5,304.1 1233.5,301.2 1241.5,298.5 1249.5,294.2 1257.5,289.6 1265.5,285.5 1273.5,280.6 1281.5,275.3 1289.5,269.2 1297.5,262.5 1305.5,255.7 1313.5,248.8 1321.5,242.7 1329.5,236.5" stroke="#ff00ff"/>
<polyline points="833.5,613.5 841.5,608.7 849.5,604.8 857.5,600.9 865.5,597.0 873.5,593.1 881.5,589.1 889.5,585.0 897.5,580.8 905.5,576.6 913.5,572.7 921.5,569.2 929.5,565.7 937.5,562.2 945.5,558.7 953.5,555.2 961.5,551.6 969.5,547.6 977.5,543.6 985.5,539.6 993.5,535.8 1001.5,532.0 1009.5,528.3 1017.5,524.1 1025.5,519.3 1033.5,514.5 1041.5,509.9 1049.5,505.7 1057.5,501.4 1065.5,497.1 1073.5,492.6 1081.5,488.1 1089.5,483.6 1097.5,479.1 1105.5,474.5 1113.5,470.0 1121.5,465.4 1129.5,461.3 1137.5,457.3 1145.5,453.3 1153.5,449.3 1161.5,445.3 1169.5,441.3 1177.5,437.3 1185.5,433.3 1193.5,429.3 1201.5,425.3 1209.5,421.3 1217.5,417.3 1225.5,413.4 1233.5,410.3 1241.5,407.2 1249.5,404.1 1257.5,401.0 1265.5,398.9 1273.5,396.8 1281.5,394.9 1289.5,393.4 1297.5,392.0 1305.5,390.8 1313.5,389.6 1321.5,388.4 1329.5,387.3" stroke="#ff0000"/>
</g>
<g shape-rendering="crispEdges">
<rect x="1" y="79" width="1685" height="1" fill="#778899"/>
<rect x="1" y="146" width="1685" height="2" fill="#32cd32"/>
<rect x="1" y="288" width="1685" height="2" fill="#4169e1"/>
<rect x="1" y="429" width="1685" height="2" fill="#4169e1"/>
<rect x="1" y="575" width="1685" height="2" fill="#4169e1"/>
</g>
<path d="M1342.5 31 L1352.5 31 L1347.5 36 Z" fill="#778899"/>
<g clip-path="url(#cd)" shape-rendering="crispEdges">
<rect x="1" y="659" width="1" height="31" fill="#c0c0c0"/>
<rect x="9" y="652" width="1" height="38" fill="#c0c0c0"/>
<rect x="17" y="647" width="1" height="43" fill="#c0c0c0"/>
<rect x="25" y="642" width="1" height="48" fill="#c0c0c0"/>
<rect x="33" y="642" width="1" height="48" fill="#c0c0c0"/>
<rect x="41" y="645" width="1" height="45" fill="#c0c0c0"/>
<rect x="49" y="646" width="1" height="44" fill="#c0c0c0"/>
<rect x="57" y="655" width="1" height="35" fill="#c0c0c0"/>
<rect x="65" y="659" width="1" height="31" fill="#c0c0c0"/>
<rect x="73" y="662" width="1" height="28" fill="#c0c0c0"/>
<rect x="81" y="664" width="1" height="26" fill="#c0c0c0"/>
<rect x="89" y="662" width="1" height="28" fill="#c0c0c0"/>
<rect x="97" y="668" width="1" height="22" fill="#c0c0c0"/>
<rect x="105" y="683" width="1" height="7" fill="#c0c0c0"/>
<rect x="113" y="687" width="1" height="3" fill="#c0c0c0"/>
<rect x="121" y="689" width="1" height="1" fill="#c0c0c0"/>
<rect x="129" y="689" width="1" height="6" fill="#c0c0c0"/>
<rect x="137" y="689" width="1" height="7" fill="#c0c0c0"/>
<rect x="153" y="675" width="1" height="15" fill="#c0c0c0"/>
<rect x="161" y="664" width="1" height="26" fill="#c0c0c0"/>
<rect x="169" y="656" width="1" height="34" fill="#c0c0c0"/>
<rect x="177" y="651" width="1" height="39" fill="#c0c0c0"/>
<rect x="185" y="650" width="1" height="40" fill="#c0c0c0"/>
<rect x="193" y="654" width="1" height="36" fill="#c0c0c0"/>
<rect x="201" y="665" width="1" height="25" fill="#c0c0c0"/>
<rect x="209" y="672" width="1" height="18" fill="#c0c0c0"/>
<rect x="217" y="674" width="1" height="16" fill="#c0c0c0"/>
<rect x="225" y="677" width="1" height="13" fill="#c0c0c0"/>
<rect x="233" y="676" width="1" height="14" fill="#c0c0c0"/>
<rect x="241" y="677" width="1" height="13" fill="#c0c0c0"/>
<rect x="249" y="676" width="1" height="14" fill="#c0c0c0"/>
<rect x="257" y="676" width="1" height="14" fill="#c0c0c0"/>
<rect x="265" y="681" width="1" height="9" fill="#c0c0c0"/>
<rect x="273" y="685" width="1" height="5" fill="#c0c0c0"/>
<rect x="281" y="686" width="1" height="4" fill="#c0c0c0"/>
<rect x="289" y="686" width="1" height="4" fill="#c0c0c0"/>
<rect x="297" y="682" width="1" height="8" fill="#c0c0c0"/>
<rect x="305" y="671" width="1" height="19" fill="#c0c0c0"/>
<rect x="313" y="661" width="1" height="29" fill="#c0c0c0"/>
<rect x="321" y="660" width="1" height="30" fill="#c0c0c0"/>
<rect x="329" y="658" width="1" height="32" fill="#c0c0c0"/>
<rect x="337" y="655" width="1" height="35" fill="#c0c0c0"/>
<rect x="345" y="655" width="1" height="35" fill="#c0c0c0"/>
<rect x="353" y="655" width="1" height="35" fill="#c0c0c0"/>
<rect x="361" y="656" width="1" height="34" fill="#c0c0c0"/>
<rect x="369" y="657" width="1" height="33" fill="#c0c0c0"/>
<rect x="377" y="666" width="1" height="24" fill="#c0c0c0"/>
<rect x="385" y="670" width="1" height="20" fill="#c0c0c0"/>
<rect x="393" y="675" width="1" height="15" fill="#c0c0c0"/>
<rect x="401" y="687" width="1" height="3" fill="#c0c0c0"/>
<rect x="409" y="689" width="1" height="7" fill="#c0c0c0"/>
<rect x="417" y="689" width="1" height="11" fill="#c0c0c0"/>
<rect x="425" y="689" width="1" height="20" fill="#c0c0c0"/>
<rect x="433" y="689" width="1" height="30" fill="#c0c0c0"/>
<rect x="441" y="689" width="1" height="35" fill="#c0c0c0"/>
<rect x="449" y="689" width="1" height="41" fill="#c0c0c0"/>
<rect x="457" y="689" width="1" height="46" fill="#c0c0c0"/>
<rect x="465" y="689" width="1" height="45" fill="#c0c0c0"/>
<rect x="473" y="689" width="1" height="42" fill="#c0c0c0"/>
<rect x="481" y="689" width="1" height="38" fill="#c0c0c0"/>
<rect x="489" y="689" width="1" height="33" fill="#c0c0c0"/>
<rect x="497" y="689" width="1" height="28" fill="#c0c0c0"/>
<rect x="505" y="689" width="1" height="28" fill="#c0c0c0"/>
<rect x="513" y="689" width="1" height="29" fill="#c0c0c0"/>
<rect x="521" y="689" width="1" height="33" fill="#c0c0c0"/>
<rect x="529" y="689" width="1" height="34" fill="#c0c0c0"/>
<rect x="537" y="689" width="1" height="31" fill="#c0c0c0"/>
<rect x="545" y="689" width="1" height="19" fill="#c0c0c0"/>
<rect x="553" y="689" width="1" height="13" fill="#c0c0c0"/>
<rect x="561" y="689" width="1" height="10" fill="#c0c0c0"/>
<rect x="569" y="689" width="1" height="7" fill="#c0c0c0"/>
<rect x="577" y="689" width="1" height="10" fill="#c0c0c0"/>
<rect x="585" y="689" width="1" height="11" fill="#c0c0c0"/>
<rect x="593" y="689" width="1" height="13" fill="#c0c0c0"/>
<rect x="601" y="689" width="1" height="21" fill="#c0c0c0"/>
<rect x="609" y="689" width="1" height="27" fill="#c0c0c0"/>
<rect x="617" y="689" width="1" height="30" fill="#c0c0c0"/>
<rect x="625" y="689" width="1" height="32" fill="#c0c0c0"/>
<rect x="633" y="689" width="1" height="33" fill="#c0c0c0"/>
<rect x="641" y="689" width="1" height="32" fill="#c0c0c0"/>
<rect x="649" y="689" width="1" height="29" fill="#c0c0c0"/>
<rect x="657" y="689" width="1" height="27" fill="#c0c0c0"/>
<rect x="665" y="689" width="1" height="23" fill="#c0c0c0"/>
<rect x="673" y="689" width="1" height="25" fill="#c0c0c0"/>
<rect x="681" y="689" width="1" height="14" fill="#c0c0c0"/>
<rect x="689" y="689" width="1" height="8" fill="#c0c0c0"/>
<rect x="697" y="682" width="1" height="8" fill="#c0c0c0"/>
<rect x="705" y="667" width="1" height="23" fill="#c0c0c0"/>
<rect x="713" y="655" width="1" height="35" fill="#c0c0c0"/>
<rect x="721" y="645" width="1" height="45" fill="#c0c0c0"/>
<rect x="729" y="640" width="1" height="50" fill="#c0c0c0"/>
<rect x="737" y="636" width="1" height="54" fill="#c0c0c0"/>
<rect x="745" y="636" width="1" height="54" fill="#c0c0c0"/>
<rect x="753" y="637" width="1" height="53" fill="#c0c0c0"/>
<rect x="761" y="641" width="1" height="49" fill="#c0c0c0"/>
<rect x="769" y="644" width="1" height="46" fill="#c0c0c0"/>
<rect x="777" y="648" width="1" height="42" fill="#c0c0c0"/>
<rect x="785" y="653" width="1" height="37" fill="#c0c0c0"/>
<rect x="793" y="656" width="1" height="34" fill="#c0c0c0"/>
<rect x="801" y="657" width="1" height="33" fill="#c0c0c0"/>
<rect x="809" y="661" width="1" height="29" fill="#c0c0c0"/>
<rect x="817" y="661" width="1" height="29" fill="#c0c0c0"/>
<rect x="825" y="666" width="1" height="24" fill="#c0c0c0"/>
<rect x="833" y="667" width="1" height="23" fill="#c0c0c0"/>
<rect x="841" y="667" width="1" height="23" fill="#c0c0c0"/>
<rect x="849" y="673" width="1" height="17" fill="#c0c0c0"/>
<rect x="857" y="680" width="1" height="10" fill="#c0c0c0"/>
<rect x="865" y="687" width="1" height="3" fill="#c0c0c0"/>
<rect x="873" y="689" width="1" height="2" fill="#c0c0c0"/>
<rect x="881" y="689" width="1" height="5" fill="#c0c0c0"/>
<rect x="889" y="689" width="1" height="4" fill="#c0c0c0"/>
<rect x="897" y="689" width="1" height="3" fill="#c0c0c0"/>
<rect x="913" y="685" width="1" height="5" fill="#c0c0c0"/>
<rect x="921" y="683" width="1" height="7" fill="#c0c0c0"/>
<rect x="929" y="688" width="1" height="2" fill="#c0c0c0"/>
<rect x="945" y="689" width="1" height="1" fill="#c0c0c0"/>
<rect x="953" y="688" width="1" height="2" fill="#c0c0c0"/>
<rect x="961" y="685" width="1" height="5" fill="#c0c0c0"/>
<rect x="969" y="680" width="1" height="10" fill="#c0c0c0"/>
<rect x="977" y="675" width="1" height="15" fill="#c0c0c0"/>
<rect x="985" y="667" width="1" height="23" fill="#c0c0c0"/>
<rect x="993" y="659" width="1" height="31" fill="#c0c0c0"/>
<rect x="1001" y="656" width="1" height="34" fill="#c0c0c0"/>
<rect x="1009" y="650" width="1" height="40" fill="#c0c0c0"/>
<rect x="1017" y="636" width="1" height="54" fill="#c0c0c0"/>
<rect x="1025" y="628" width="1" height="62" fill="#c0c0c0"/>
<rect x="1033" y="622" width="1" height="68" fill="#c0c0c0"/>
<rect x="1041" y="620" width="1" height="70" fill="#c0c0c0"/>
<rect x="1049" y="620" width="1" height="70" fill="#c0c0c0"/>
<rect x="1057" y="624" width="1" height="66" fill="#c0c0c0"/>
<rect x="1065" y="629" width="1" height="61" fill="#c0c0c0"/>
<rect x="1073" y="633" width="1" height="57" fill="#c0c0c0"/>
<rect x="1081" y="641" width="1" height="49" fill="#c0c0c0"/>
<rect x="1089" y="648" width="1" height="42" fill="#c0c0c0"/>
<rect x="1097" y="651" width="1" height="39" fill="#c0c0c0"/>
<rect x="1105" y="652" width="1" height="38" fill="#c0c0c0"/>
<rect x="1113" y="655" width="1" height="35" fill="#c0c0c0"/>
<rect x="1121" y="657" width="1" height="33" fill="#c0c0c0"/>
<rect x="1129" y="658" width="1" height="32" fill="#c0c0c0"/>
<rect x="1137" y="661" width="1" height="29" fill="#c0c0c0"/>
<rect x="1145" y="662" width="1" height="28" fill="#c0c0c0"/>
<rect x="1153" y="661" width="1" height="29" fill="#c0c0c0"/>
<rect x="1161" y="661" width="1" height="29" fill="#c0c0c0"/>
<rect x="1169" y="660" width="1" height="30" fill="#c0c0c0"/>
<rect x="1177" y="657" width="1" height="33" fill="#c0c0c0"/>
<rect x="1185" y="652" width="1" height="38" fill="#c0c0c0"/>
<rect x="1193" y="650" width="1" height="40" fill="#c0c0c0"/>
<rect x="1201" y="650" width="1" height="40" fill="#c0c0c0"/>
<rect x="1209" y="652" width="1" height="38" fill="#c0c0c0"/>
<rect x="1217" y="658" width="1" height="32" fill="#c0c0c0"/>
<rect x="1225" y="664" width="1" height="26" fill="#c0c0c0"/>
<rect x="1233" y="667" width="1" height="23" fill="#c0c0c0"/>
<rect x="1241" y="670" width="1" height="20" fill="#c0c0c0"/>
<rect x="1249" y="666" width="1" height="24" fill="#c0c0c0"/>
<rect x="1257" y="659" width="1" height="31" fill="#c0c0c0"/>
<rect x="1265" y="660" width="1" height="30" fill="#c0c0c0"/>
<rect x="1273" y="655" width="1" height="35" fill="#c0c0c0"/>
<rect x="1281" y="648" width="1" height="42" fill="#c0c0c0"/>
<rect x="1289" y="644" width="1" height="46" fill="#c0c0c0"/>
<rect x="1297" y="641" width="1" height="49" fill="#c0c0c0"/>
<rect x="1305" y="640" width="1" height="50" fill="#c0c0c0"/>
<rect x="1313" y="639" width="1" height="51" fill="#c0c0c0"/>
<rect x="1321" y="642" width="1" height="48" fill="#c0c0c0"/>
<rect x="1329" y="641" width="1" height="49" fill="#c0c0c0"/>
</g>
<g clip-path="url(#cd)" fill="none" shape-rendering="crispEdges">
<polyline points="1.5,680.0 9.5,674.6 17.5,668.5 25.5,662.9 33.5,659.0 41.5,655.6 49.5,652.2 57.5,649.5 65.5,649.5 73.5,649.8 81.5,651.1 89.5,652.7 97.5,655.5 105.5,660.1 113.5,664.7 121.5,669.9 129.5,674.4 137.5,678.7 145.5,681.8 153.5,683.1 161.5,683.4 169.5,682.0 177.5,678.6 185.5,674.5 193.5,670.3 201.5,666.8 209.5,664.1 217.5,662.2 225.5,662.4 233.5,663.7 241.5,666.1 249.5,668.9 257.5,671.8 265.5,674.8 273.5,677.0 281.5,678.5 289.5,679.8 297.5,680.4 305.5,679.8 313.5,678.0 321.5,676.2 329.5,674.2 337.5,671.4 345.5,668.0 353.5,664.6 361.5,661.3 369.5,658.6 377.5,658.0 385.5,659.0 393.5,660.6 401.5,663.8 409.5,668.5 417.5,673.7 425.5,679.9 433.5,687.2 441.5,694.7 449.5,702.0 457.5,709.4 465.5,716.2 473.5,721.3 481.5,724.8 489.5,727.3 497.5,728.2 505.5,728.0 513.5,727.3 521.5,726.5 529.5,725.2 537.5,723.6 545.5,721.0 553.5,718.2 561.5,715.6 569.5,713.3 577.5,711.3 585.5,709.4 593.5,707.1 601.5,705.7 609.5,705.3 617.5,706.6 625.5,708.6 633.5,711.1 641.5,713.9 649.5,716.0 657.5,717.8 665.5,718.9 673.5,719.3 681.5,717.9 689.5,715.4 697.5,710.9 705.5,704.6 713.5,697.1 721.5,688.9 729.5,680.3 737.5,671.6 745.5,662.8 753.5,655.2 761.5,648.9 769.5,644.6 777.5,642.5 785.5,642.2 793.5,643.4 801.5,645.2 809.5,648.0 817.5,650.8 825.5,654.0 833.5,656.9 841.5,659.5 849.5,662.3 857.5,665.3 865.5,668.8 873.5,672.8 881.5,676.6 889.5,680.4 897.5,683.5 905.5,686.0 913.5,687.9 921.5,689.1 929.5,690.0 937.5,690.3 945.5,690.0 953.5,689.1 961.5,687.9 969.5,686.5 977.5,684.9 985.5,682.8 993.5,680.1 1001.5,676.5 1009.5,672.2 1017.5,666.2 1025.5,659.5 1033.5,652.6 1041.5,645.9 1049.5,639.8 1057.5,635.1 1065.5,631.8 1073.5,629.2 1081.5,628.2 1089.5,629.5 1097.5,632.0 1105.5,635.3 1113.5,639.1 1121.5,643.3 1129.5,647.1 1137.5,650.6 1145.5,653.8 1153.5,656.0 1161.5,657.5 1169.5,658.6 1177.5,659.1 1185.5,658.8 1193.5,658.0 1201.5,657.1 1209.5,656.1 1217.5,655.7 1225.5,656.1 1233.5,656.8 1241.5,657.8 1249.5,658.9 1257.5,659.7 1265.5,660.8 1273.5,661.3 1281.5,660.9 1289.5,659.3 1297.5,656.7 1305.5,653.7 1313.5,650.3 1321.5,647.6 1329.5,645.7" stroke="#ff0000" stroke-dasharray="3 3"/>
</g>
<g shape-rendering="crispEdges">
<line x1="1" y1="783.5" x2="1686" y2="783.5" stroke="#c0c0c0" stroke-dasharray="3 3"/>
<line x1="1" y1="833.5" x2="1686" y2="833.5" stroke="#c0c0c0" stroke-dasharray="3 3"/>
</g>
<g clip-path="url(#cr)" fill="none" shape-rendering="crispEdges">
<polyline points="1.5,793.3 9.5,792.5 17.5,791.9 25.5,790.9 33.5,795.4 41.5,801.0 49.5,798.1 57.5,811.3 65.5,805.3 73.5,806.4 81.5,803.4 89.5,799.5 97.5,810.7 105.5,820.8 113.5,811.4 121.5,813.2 129.5,813.7 137.5,810.7 145.5,801.3 153.5,792.4 161.5,794.0 169.5,793.3 177.5,795.6 185.5,799.1 193.5,805.3 201.5,814.2 209.5,812.5 217.5,806.8 225.5,808.7 233.5,804.8 241.5,807.1 249.5,804.3 257.5,804.3 265.5,811.8 273.5,812.2 281.5,808.7 289.5,807.0 297.5,800.8 305.5,791.5 313.5,789.6 321.5,801.2 329.5,799.2 337.5,796.8 345.5,799.8 353.5,799.7 361.5,800.4 369.5,801.9 377.5,813.2 385.5,808.9 393.5,811.1 401.5,822.7 409.5,823.5 417.5,816.1 425.5,823.7 433.5,826.9 441.5,821.4 449.5,825.0 457.5,825.3 465.5,818.4 473.5,814.3 481.5,813.5 489.5,810.0 497.5,808.3 505.5,815.7 513.5,817.3 521.5,823.3 529.5,818.5 537.5,812.0 545.5,798.6 553.5,805.1 561.5,807.1 569.5,806.0 577.5,814.6 585.5,812.8 593.5,813.9 601.5,823.2 609.5,821.3 617.5,821.3 625.5,818.7 633.5,819.4 641.5,815.8 649.5,812.9 657.5,814.1 665.5,809.3 673.5,818.3 681.5,798.5 689.5,803.3 697.5,790.4 705.5,788.3 713.5,789.4 721.5,787.8 729.5,792.1 737.5,791.2 745.5,795.5 753.5,796.7 761.5,802.6 769.5,799.7 777.5,803.2 785.5,805.8 793.5,803.4 801.5,801.3 809.5,805.3 817.5,800.4 825.5,809.1 833.5,804.1 841.5,802.0 849.5,811.2 857.5,816.4 865.5,816.8 873.5,818.3 881.5,814.1 889.5,808.9 897.5,806.6 905.5,802.4 913.5,799.1 921.5,803.3 929.5,814.7 937.5,810.7 945.5,809.8 953.5,803.1 961.5,802.2 969.5,797.9 977.5,795.8 985.5,788.5 993.5,786.4 1001.5,794.9 1009.5,789.6 1017.5,779.2 1025.5,783.9 1033.5,784.3 1041.5,788.6 1049.5,789.3 1057.5,796.5 1065.5,798.8 1073.5,797.7 1081.5,806.8 1089.5,807.0 1097.5,801.0 1105.5,798.9 1113.5,803.0 1121.5,801.6 1129.5,799.5 1137.5,803.6 1145.5,799.7 1153.5,797.1 1161.5,798.9 1169.5,795.4 1177.5,789.7 1185.5,786.8 1193.5,790.8 1201.5,793.4 1209.5,797.6 1217.5,808.1 1225.5,810.6 1233.5,806.6 1241.5,805.9 1249.5,793.5 1257.5,786.6 1265.5,802.9 1273.5,793.3 1281.5,789.9 1289.5,790.3 1297.5,791.7 1305.5,792.1 1313.5,792.0 1321.5,798.2 1329.5,792.6" stroke="#1e90ff"/>
</g>
<g shape-rendering="crispEdges" fill="#000">
<rect x="0" y="30" width="1687" height="1"/>
<rect x="0" y="610" width="1687" height="1"/>
<rect x="0" y="30" width="1" height="581"/>
<rect x="1686" y="30" width="1" height="581"/>
<rect x="0" y="612" width="1687" height="1"/>
<rect x="0" y="741" width="1687" height="1"/>
<rect x="0" y="612" width="1" height="130"/>
<rect x="1686" y="612" width="1" height="130"/>
<rect x="0" y="743" width="1687" height="1"/>
<rect x="0" y="872" width="1687" height="1"/>
<rect x="0" y="743" width="1" height="130"/>
<rect x="1686" y="743" width="1" height="130"/>
<rect x="1687" y="46" width="2" height="1"/>
<rect x="1687" y="79" width="2" height="1"/>
<rect x="1687" y="112" width="2" height="1"/>
<rect x="1687" y="145" width="2" height="1"/>
<rect x="1687" y="178" width="2" height="1"/>
<rect x="1687" y="211" width="2" height="1"/>
<rect x="1687" y="244" width="2" height="1"/>
<rect x="1687" y="277" width="2" height="1"/>
<rect x="1687" y="310" width="2" height="1"/>
<rect x="1687" y="343" width="2" height="1"/>
<rect x="1687" y="376" width="2" height="1"/>
<rect x="1687" y="409" width="2" height="1"/>
<rect x="1687" y="442" width="2" height="1"/>
<rect x="1687" y="475" width="2" height="1"/>
<rect x="1687" y="508" width="2" height="1"/>
<rect x="1687" y="541" width="2" height="1"/>
<rect x="1687" y="574" width="2" height="1"/>
<rect x="1687" y="607" width="2" height="1"/>
<rect x="1687" y="613" width="2" height="1"/>
<rect x="1687" y="689" width="2" height="1"/>
<rect x="1687" y="740" width="2" height="1"/>
<rect x="1687" y="744" width="2" height="1"/>
<rect x="1687" y="871" width="2" height="1"/>
<rect x="1" y="873" width="1" height="3"/>
<rect x="65" y="873" width="1" height="3"/>
<rect x="129" y="873" width="1" height="3"/>
<rect x="193" y="873" width="1" height="3"/>
<rect x="257" y="873" width="1" height="3"/>
<rect x="321" y="873" width="1" height="3"/>
<rect x="385" y="873" width="1" height="3"/>
<rect x="449" y="873" width="1" height="3"/>
<rect x="513" y="873" width="1" height="3"/>
<rect x="577" y="873" width="1" height="3"/>
<rect x="641" y="873" width="1" height="3"/>
<rect x="705" y="873" width="1" height="3"/>
<rect x="769" y="873" width="1" height="3"/>
<rect x="833" y="873" width="1" height="3"/>
<rect x="897" y="873" width="1" height="3"/>
<rect x="961" y="873" width="1" height="3"/>
<rect x="1025" y="873" width="1" height="3"/>
<rect x="1089" y="873" width="1" height="3"/>
<rect x="1153" y="873" width="1" height="3"/>
<rect x="1217" y="873" width="1" height="3"/>
<rect x="1281" y="873" width="1" height="3"/>
</g>
<path d="M4 37 L11 37 L7.5 41 Z" fill="#000"/>
<text x="15.6" y="42" fill="#000" stroke="#000" stroke-width="0.22" font-size="9.2" textLength="65.8" lengthAdjust="spacingAndGlyphs">CHINA300-,H4</text>
<text x="86.7" y="42" fill="#000" stroke="#000" stroke-width="0.22" font-size="9.2" textLength="121.9" lengthAdjust="spacingAndGlyphs">5032.8 5079.4 5032.8 5072.6</text>
<text x="4.7" y="625" fill="#000" stroke="#000" stroke-width="0.22" font-size="9.2" textLength="118.7" lengthAdjust="spacingAndGlyphs">MACD(12,26,9) 43.90 40.03</text>
<text x="4.5" y="756" fill="#000" stroke="#000" stroke-width="0.22" font-size="9.2" textLength="68.9" lengthAdjust="spacingAndGlyphs">RSI(14) 62.6994</text>
<text x="1691.4" y="50" fill="#000" stroke="#000" stroke-width="0.22" font-size="9.2" textLength="28.8" lengthAdjust="spacingAndGlyphs">5108.0</text>
<text x="1691.4" y="116" fill="#000" stroke="#000" stroke-width="0.22" font-size="9.2" textLength="28.8" lengthAdjust="spacingAndGlyphs">5038.0</text>
<text x="1691.4" y="182" fill="#000" stroke="#000" stroke-width="0.22" font-size="9.2" textLength="28.8" lengthAdjust="spacingAndGlyphs">4968.0</text>
<text x="1691.4" y="215" fill="#000" stroke="#000" stroke-width="0.22" font-size="9.2" textLength="28.8" lengthAdjust="spacingAndGlyphs">4933.0</text>
<text x="1691.4" y="248" fill="#000" stroke="#000" stroke-width="0.22" font-size="9.2" textLength="28.8" lengthAdjust="spacingAndGlyphs">4898.0</text>
<text x="1691.4" y="281" fill="#000" stroke="#000" stroke-width="0.22" font-size="9.2" textLength="28.8" lengthAdjust="spacingAndGlyphs">4863.0</text>
<text x="1691.4" y="314" fill="#000" stroke="#000" stroke-width="0.22" font-size="9.2" textLength="28.8" lengthAdjust="spacingAndGlyphs">4828.0</text>
<text x="1691.4" y="347" fill="#000" stroke="#000" stroke-width="0.22" font-size="9.2" textLength="28.8" lengthAdjust="spacingAndGlyphs">4793.0</text>
<text x="1691.4" y="380" fill="#000" stroke="#000" stroke-width="0.22" font-size="9.2" textLength="28.8" lengthAdjust="spacingAndGlyphs">4758.0</text>
<text x="1691.4" y="413" fill="#000" stroke="#000" stroke-width="0.22" font-size="9.2" textLength="28.8" lengthAdjust="spacingAndGlyphs">4723.0</text>
<text x="1691.4" y="446" fill="#000" stroke="#000" stroke-width="0.22" font-size="9.2" textLength="28.8" lengthAdjust="spacingAndGlyphs">4688.0</text>
<text x="1691.4" y="479" fill="#000" stroke="#000" stroke-width="0.22" font-size="9.2" textLength="28.8" lengthAdjust="spacingAndGlyphs">4653.0</text>
<text x="1691.4" y="512" fill="#000" stroke="#000" stroke-width="0.22" font-size="9.2" textLength="28.8" lengthAdjust="spacingAndGlyphs">4618.0</text>
<text x="1691.4" y="545" fill="#000" stroke="#000" stroke-width="0.22" font-size="9.2" textLength="28.8" lengthAdjust="spacingAndGlyphs">4583.0</text>
<text x="1691.4" y="611" fill="#000" stroke="#000" stroke-width="0.22" font-size="9.2" textLength="28.8" lengthAdjust="spacingAndGlyphs">4513.0</text>
<g shape-rendering="crispEdges">
<rect x="1688" y="74" width="36" height="11" fill="#000"/>
<rect x="1688" y="141" width="36" height="11" fill="#32cd32"/>
<rect x="1688" y="283" width="36" height="11" fill="#4169e1"/>
<rect x="1688" y="424" width="36" height="11" fill="#4169e1"/>
<rect x="1688" y="570" width="36" height="11" fill="#4169e1"/>
</g>
<text x="1691.4" y="83" fill="#fff" stroke="#fff" stroke-width="0.22" font-size="9.2" textLength="28.8" lengthAdjust="spacingAndGlyphs">5072.6</text>
<text x="1691.4" y="150" fill="#fff" stroke="#fff" stroke-width="0.22" font-size="9.2" textLength="28.8" lengthAdjust="spacingAndGlyphs">5000.0</text>
<text x="1691.4" y="292" fill="#fff" stroke="#fff" stroke-width="0.22" font-size="9.2" textLength="28.8" lengthAdjust="spacingAndGlyphs">4850.0</text>
<text x="1691.4" y="433" fill="#fff" stroke="#fff" stroke-width="0.22" font-size="9.2" textLength="28.8" lengthAdjust="spacingAndGlyphs">4700.0</text>
<text x="1691.4" y="579" fill="#fff" stroke="#fff" stroke-width="0.22" font-size="9.2" textLength="28.8" lengthAdjust="spacingAndGlyphs">4545.0</text>
<text x="1689.5" y="623" fill="#000" stroke="#000" stroke-width="0.22" font-size="9.2" textLength="23.5" lengthAdjust="spacingAndGlyphs">68.19</text>
<text x="1689.5" y="693" fill="#000" stroke="#000" stroke-width="0.22" font-size="9.2" textLength="19.0" lengthAdjust="spacingAndGlyphs">0.00</text>
<text x="1689.5" y="738" fill="#000" stroke="#000" stroke-width="0.22" font-size="9.2" textLength="26.9" lengthAdjust="spacingAndGlyphs">-46.45</text>
<text x="1689.5" y="754" fill="#000" stroke="#000" stroke-width="0.22" font-size="9.2" textLength="16.2" lengthAdjust="spacingAndGlyphs">100</text>
<text x="1688.7" y="787" fill="#000" stroke="#000" stroke-width="0.22" font-size="9.2" textLength="11.1" lengthAdjust="spacingAndGlyphs">70</text>
<text x="1688.7" y="837" fill="#000" stroke="#000" stroke-width="0.22" font-size="9.2" textLength="11.1" lengthAdjust="spacingAndGlyphs">30</text>
<text x="1689.5" y="869" fill="#000" stroke="#000" stroke-width="0.22" font-size="9.2" textLength="6.0" lengthAdjust="spacingAndGlyphs">0</text>
<text x="-0.6" y="885" fill="#000" stroke="#000" stroke-width="0.22" font-size="9.2" textLength="49.0" lengthAdjust="spacingAndGlyphs">3 Aug 2020</text>
<text x="63.5" y="885" fill="#000" stroke="#000" stroke-width="0.22" font-size="9.2" textLength="52.0" lengthAdjust="spacingAndGlyphs">7 Aug 05:00</text>
<text x="127.8" y="885" fill="#000" stroke="#000" stroke-width="0.22" font-size="9.2" textLength="56.5" lengthAdjust="spacingAndGlyphs">13 Aug 05:00</text>
<text x="192.0" y="885" fill="#000" stroke="#000" stroke-width="0.22" font-size="9.2" textLength="56.6" lengthAdjust="spacingAndGlyphs">19 Aug 05:00</text>
<text x="255.8" y="885" fill="#000" stroke="#000" stroke-width="0.22" font-size="9.2" textLength="56.5" lengthAdjust="spacingAndGlyphs">25 Aug 05:00</text>
<text x="319.5" y="885" fill="#000" stroke="#000" stroke-width="0.22" font-size="9.2" textLength="56.6" lengthAdjust="spacingAndGlyphs">31 Aug 05:00</text>
<text x="383.6" y="885" fill="#000" stroke="#000" stroke-width="0.22" font-size="9.2" textLength="50.7" lengthAdjust="spacingAndGlyphs">4 Sep 05:00</text>
<text x="447.9" y="885" fill="#000" stroke="#000" stroke-width="0.22" font-size="9.2" textLength="55.2" lengthAdjust="spacingAndGlyphs">10 Sep 05:00</text>
<text x="512.0" y="885" fill="#000" stroke="#000" stroke-width="0.22" font-size="9.2" textLength="55.3" lengthAdjust="spacingAndGlyphs">16 Sep 05:00</text>
<text x="575.7" y="885" fill="#000" stroke="#000" stroke-width="0.22" font-size="9.2" textLength="55.7" lengthAdjust="spacingAndGlyphs">22 Sep 05:00</text>
<text x="640.0" y="885" fill="#000" stroke="#000" stroke-width="0.22" font-size="9.2" textLength="55.2" lengthAdjust="spacingAndGlyphs">28 Sep 05:00</text>
<text x="704.1" y="885" fill="#000" stroke="#000" stroke-width="0.22" font-size="9.2" textLength="54.0" lengthAdjust="spacingAndGlyphs">12 Oct 05:00</text>
<text x="767.8" y="885" fill="#000" stroke="#000" stroke-width="0.22" font-size="9.2" textLength="54.5" lengthAdjust="spacingAndGlyphs">16 Oct 05:00</text>
<text x="831.5" y="885" fill="#000" stroke="#000" stroke-width="0.22" font-size="9.2" textLength="54.9" lengthAdjust="spacingAndGlyphs">22 Oct 05:00</text>
<text x="895.6" y="885" fill="#000" stroke="#000" stroke-width="0.22" font-size="9.2" textLength="54.6" lengthAdjust="spacingAndGlyphs">28 Oct 05:00</text>
<text x="959.9" y="885" fill="#000" stroke="#000" stroke-width="0.22" font-size="9.2" textLength="52.4" lengthAdjust="spacingAndGlyphs">3 Nov 05:00</text>
<text x="1023.1" y="885" fill="#000" stroke="#000" stroke-width="0.22" font-size="9.2" textLength="52.9" lengthAdjust="spacingAndGlyphs">9 Nov 05:00</text>
<text x="1087.9" y="885" fill="#000" stroke="#000" stroke-width="0.22" font-size="9.2" textLength="57.2" lengthAdjust="spacingAndGlyphs">13 Nov 05:00</text>
<text x="1152.0" y="885" fill="#000" stroke="#000" stroke-width="0.22" font-size="9.2" textLength="57.4" lengthAdjust="spacingAndGlyphs">19 Nov 05:00</text>
<text x="1215.7" y="885" fill="#000" stroke="#000" stroke-width="0.22" font-size="9.2" textLength="57.5" lengthAdjust="spacingAndGlyphs">25 Nov 05:00</text>
<text x="1279.8" y="885" fill="#000" stroke="#000" stroke-width="0.22" font-size="9.2" textLength="50.7" lengthAdjust="spacingAndGlyphs">1 Dec 05:00</text>
<text x="1361" y="231" fill="#e8161f" stroke="#e8161f" stroke-width="0.4" font-size="33.8" font-family="'Liberation Sans', 'Noto Sans CJK SC', sans-serif"><tspan textLength="165" lengthAdjust="spacingAndGlyphs">多空转折点</tspan><tspan x="1527" y="229.6" font-size="35" textLength="76" lengthAdjust="spacingAndGlyphs">5000</tspan></text>
</svg>
</body></html>
